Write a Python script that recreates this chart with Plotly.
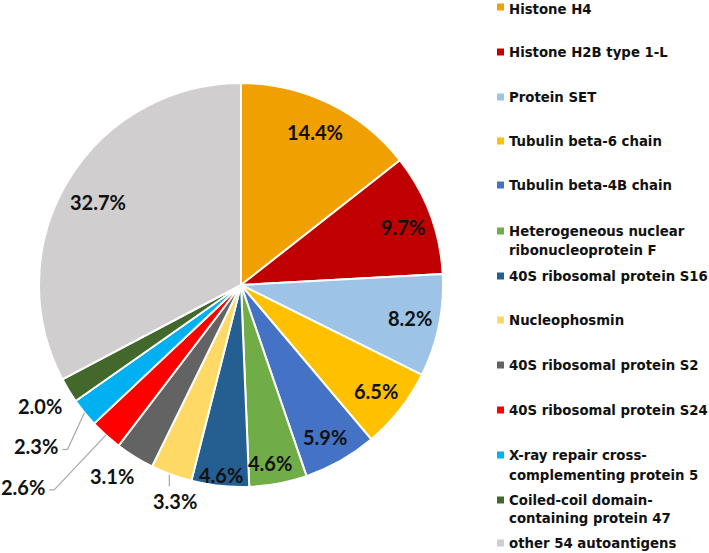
import math
import plotly.graph_objects as go

# ---- data ----
labels = [
    "Histone H4",
    "Histone H2B type 1-L",
    "Protein SET",
    "Tubulin beta-6 chain",
    "Tubulin beta-4B chain",
    "Heterogeneous nuclear<br>ribonucleoprotein F",
    "40S ribosomal protein S16",
    "Nucleophosmin",
    "40S ribosomal protein S2",
    "40S ribosomal protein S24",
    "X-ray repair cross-<br>complementing protein 5",
    "Coiled-coil domain-<br>containing protein 47",
    "other 54 autoantigens",
]
values = [14.4, 9.7, 8.2, 6.5, 5.9, 4.6, 4.6, 3.3, 3.1, 2.6, 2.3, 2.0, 32.7]
colors = ["#F0A000", "#C00000", "#9DC3E6", "#FFC000", "#4472C4", "#70AD47",
          "#255E91", "#FFD966", "#636363", "#FF0000", "#00B0F0", "#43682B", "#D0CECE"]

# ---- layout parameters (pixels) ----
W, H = 709, 553
CX, CY, R = 241, 285, 202
# label placement: radius fraction and angle offset (deg) per slice
label_k = [0.84, 0.85, 0.85, 0.85, 0.86, 0.89, 0.945, 1.12, 1.14, 1.47, 1.29, 1.16, 0.82]
label_da = [0, 1, -0.7, 0, 0.5, 1.5, 0, -3.1, 2.4, 5.2, 0.9, 0.4, -1.1]
leader = {7: "top", 9: "side", 10: "side"}
legend_y = [7, 52, 97, 141, 185, 231, 276, 320, 365, 410, 455, 500, 543]
legend_line_gap = [20, 20, 20, 20, 20, 20, 20, 20, 20, 20, 20, 18, 20]
LABEL_FONT = "Lato"
LEGEND_FONT = "DejaVu Sans"


def px(x):
    return x / W


def py(y):
    return 1 - y / H


fig = go.Figure(go.Pie(
    labels=[l.replace("<br>", " ") for l in labels],
    values=values,
    sort=False,
    direction="clockwise",
    rotation=0,
    marker=dict(colors=colors, line=dict(color="white", width=2)),
    textinfo="none",
    hoverinfo="label+percent",
    showlegend=False,
    domain=dict(x=[px(CX - R), px(CX + R)], y=[py(CY + R), py(CY - R)]),
))

annotations = []
shapes = []
total = sum(values)
cum = 0.0
for i, v in enumerate(values):
    mid = (cum + v / 2) / total * 360.0
    cum += v
    ang = math.radians(mid + label_da[i])
    lx = CX + R * label_k[i] * math.sin(ang)
    ly = CY - R * label_k[i] * math.cos(ang)
    annotations.append(dict(
        x=px(lx), y=py(ly), xref="paper", yref="paper",
        text=f"{v:.1f}%", showarrow=False, xanchor="center", yanchor="middle",
        font=dict(family=LABEL_FONT, size=20, color="#111111", weight="bold"),
    ))
    if i in leader:
        ea = math.radians(mid)
        ex = CX + R * math.sin(ea)
        ey = CY - R * math.cos(ea)
        if leader[i] == "side":
            pts = [(lx + 26, ly + 3), (lx + 31, ly + 3), (ex, ey)]
        else:
            pts = [(ex - 2, ey), (ex - 2, ly - 15)]
        for (x0, y0), (x1, y1) in zip(pts[:-1], pts[1:]):
            shapes.append(dict(type="line", xref="paper", yref="paper",
                               x0=px(x0), y0=py(y0), x1=px(x1), y1=py(y1),
                               line=dict(color="#A6A6A6", width=1.2)))

# manual legend
n = len(labels)
for i, lab in enumerate(labels):
    y0 = legend_y[i]
    shapes.append(dict(type="rect", xref="paper", yref="paper",
                       x0=px(497), x1=px(504), y0=py(y0 - 3.5), y1=py(y0 + 3.5),
                       fillcolor=colors[i], line=dict(width=0)))
    for j, line in enumerate(lab.split("<br>")):
        yy = y0 + j * legend_line_gap[i]
        anchor = "middle"
        if i == 0 and j == 0:
            yy, anchor = 0, "top"
        elif i == n - 1:
            yy, anchor = H, "bottom"
        annotations.append(dict(
            x=px(507), y=py(yy), xref="paper", yref="paper",
            text=line, showarrow=False, xanchor="left", yanchor=anchor,
            font=dict(family=LEGEND_FONT, size=13.3, color="#111111", weight="bold"),
        ))

fig.update_layout(
    width=W, height=H,
    margin=dict(l=0, r=0, t=0, b=0),
    paper_bgcolor="white", plot_bgcolor="white",
    annotations=annotations, shapes=shapes,
)
fig.write_html(
    "out.html",
    config={"displayModeBar": False},
    post_script="document.body.style.margin='0px';document.body.style.overflow='hidden';",
)
